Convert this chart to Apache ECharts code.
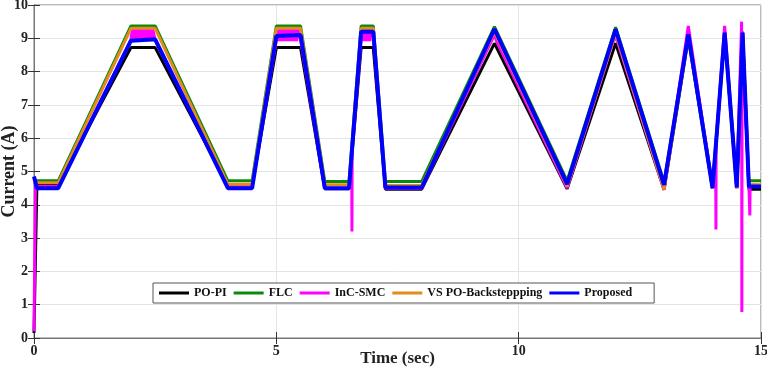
<!DOCTYPE html>
<html><head><meta charset="utf-8">
<script src="https://cdn.jsdelivr.net/npm/echarts@6/dist/echarts.min.js"></script>
<style>html,body{margin:0;padding:0;background:#fff}#c{width:767px;height:375px}</style>
</head><body><div id="c"></div>
<script>
// time keys (s) shared by the smooth controllers
const tKey = [0, 0.06, 0.5, 2.0, 2.5, 4.0, 4.5, 5.0, 5.5, 6.0, 6.5, 6.75, 7.0, 7.25, 8.0, 9.5, 11.0, 12.0, 13.0, 13.5, 14.0, 14.25, 14.5, 14.62, 14.75, 15];
const poPI     = [0.15, 4.62, 4.62, 8.72, 8.72, 4.58, 4.58, 8.72, 8.72, 4.48, 4.48, 8.72, 8.72, 4.47, 4.47, 8.85, 4.48, 8.85, 4.45, 9.0, 4.5, 9.1, 4.5, 9.15, 4.47, 4.47];
const flc      = [4.72, 4.72, 4.72, 9.37, 9.37, 4.72, 4.72, 9.37, 9.37, 4.7, 4.7, 9.37, 9.37, 4.7, 4.7, 9.35, 4.72, 9.33, 4.68, 9.15, 4.6, 9.2, 4.6, 9.2, 4.72, 4.72];
const vsBack   = [4.68, 4.66, 4.66, 9.3, 9.3, 4.62, 4.62, 9.3, 9.3, 4.6, 4.6, 9.3, 9.3, 4.58, 4.58, 9.2, 4.55, 9.15, 4.45, 9.1, 4.5, 9.15, 4.5, 9.15, 4.6, 4.6];
const proposed = [4.85, 4.5, 4.5, 8.93, 8.97, 4.5, 4.5, 9.07, 9.1, 4.5, 4.5, 9.2, 9.2, 4.52, 4.52, 9.28, 4.62, 9.27, 4.6, 9.12, 4.5, 9.17, 4.52, 9.17, 4.55, 4.55];
// InC-SMC has chattering and spikes: own time/value pairs
const incSMC = [
  [0, 0.2], [0.03, 4.7], [0.06, 4.55], [0.5, 4.55],
  [2.0, 8.95], [2.03, 9.28], [2.06, 8.92], [2.09, 9.28], [2.12, 8.92], [2.15, 9.28], [2.18, 8.92], [2.21, 9.28], [2.24, 8.92], [2.27, 9.28], [2.3, 8.92], [2.33, 9.28], [2.36, 8.92], [2.39, 9.28], [2.42, 8.92], [2.45, 9.28], [2.5, 8.95],
  [4.0, 4.55], [4.5, 4.55],
  [5.0, 8.95], [5.03, 9.3], [5.06, 8.92], [5.09, 9.3], [5.12, 8.92], [5.15, 9.3], [5.18, 8.92], [5.21, 9.3], [5.24, 8.92], [5.27, 9.3], [5.3, 8.92], [5.33, 9.3], [5.36, 8.92], [5.39, 9.3], [5.42, 8.92], [5.45, 9.3], [5.5, 8.95],
  [6.0, 4.5], [6.5, 4.5], [6.555, 5.5], [6.56, 3.2], [6.565, 5.7],
  [6.75, 8.95], [6.78, 9.3], [6.81, 8.92], [6.84, 9.3], [6.87, 8.92], [6.9, 9.3], [6.93, 8.92], [6.96, 9.3], [7.0, 9.1],
  [7.25, 4.5], [8.0, 4.5],
  [9.45, 8.95], [9.5, 9.1], [9.55, 8.9],
  [11.0, 4.5], [11.95, 8.9], [12.0, 9.05], [12.05, 8.85],
  [13.0, 4.45], [13.5, 9.37], [14.0, 4.5],
  [14.065, 5.75], [14.07, 3.26], [14.075, 5.9], [14.25, 9.37],
  [14.5, 4.5], [14.6, 9.5], [14.605, 0.78], [14.61, 9.2],
  [14.75, 4.55], [14.765, 4.55], [14.77, 3.68], [14.775, 4.6], [15, 4.58]
];
const names = ['PO-PI', 'FLC', 'InC-SMC', 'VS PO-Backsteppping', 'Proposed'];
const colors = ['#000000', '#0a8a0a', '#ff00ff', '#e58a1f', '#0000ff'];
const xTicks = {min: 0, max: 15, interval: 5};
const yTicks = {min: 0, max: 10, interval: 1};

const zip = (v) => tKey.map((t, i) => [t, v[i]]);
const font = 'Liberation Serif';
const chart = echarts.init(document.getElementById('c'));
const mk = (name, data, color, w) => ({
  name, type: 'line', data, showSymbol: false, symbol: 'none',
  lineStyle: {color, width: w}, itemStyle: {color}, animation: false
});
chart.setOption({
  animation: false,
  grid: {left: 34, right: 6, top: 5, bottom: 37, containLabel: false, outerBoundsMode: 'none',
         show: true, borderColor: '#777', borderWidth: 1},
  legend: {
    left: 153, top: 283, data: names, icon: 'rect', itemWidth: 30, itemHeight: 3, itemGap: 7,
    padding: [4, 22, 4, 6], borderColor: '#555', borderWidth: 1, backgroundColor: '#fff',
    textStyle: {fontFamily: font, fontWeight: 'bold', fontSize: 12, color: '#111'}
  },
  xAxis: [{
    type: 'value', min: xTicks.min, max: xTicks.max, interval: xTicks.interval,
    name: 'Time (sec)', nameLocation: 'middle', nameGap: 12, nameMoveOverlap: false,
    nameTextStyle: {fontFamily: font, fontWeight: 'bold', fontSize: 17, color: '#222', verticalAlign: 'top'},
    axisLine: {show: true, lineStyle: {color: '#777'}},
    axisTick: {show: true, inside: true, length: 6, lineStyle: {color: '#333'}},
    axisLabel: {fontFamily: font, fontWeight: 'bold', fontSize: 14, color: '#222', margin: 6},
    splitLine: {show: true, lineStyle: {color: '#e4e4e4'}}
  }, {
    type: 'value', position: 'top', min: xTicks.min, max: xTicks.max, interval: xTicks.interval,
    axisLine: {show: true, lineStyle: {color: '#777'}},
    axisTick: {show: true, inside: true, length: 6, lineStyle: {color: '#333'}},
    axisLabel: {show: false}, splitLine: {show: false}
  }],
  yAxis: [{
    type: 'value', min: yTicks.min, max: yTicks.max, interval: yTicks.interval,
    name: 'Current (A)', nameLocation: 'middle', nameGap: 16, nameMoveOverlap: false,
    nameTextStyle: {fontFamily: font, fontWeight: 'bold', fontSize: 18, color: '#222'},
    axisLine: {show: true, lineStyle: {color: '#777'}},
    axisTick: {show: true, inside: true, length: 6, lineStyle: {color: '#333'}},
    axisLabel: {fontFamily: font, fontWeight: 'bold', fontSize: 14, color: '#222', margin: 6},
    splitLine: {show: true, lineStyle: {color: '#e4e4e4'}}
  }, {
    type: 'value', position: 'right', min: yTicks.min, max: yTicks.max, interval: yTicks.interval,
    axisLine: {show: true, lineStyle: {color: '#777'}},
    axisTick: {show: true, inside: true, length: 6, lineStyle: {color: '#333'}},
    axisLabel: {show: false}, splitLine: {show: false}
  }],
  series: [
    mk(names[0], zip(poPI), colors[0], 3),
    mk(names[1], zip(flc), colors[1], 3),
    mk(names[2], incSMC, colors[2], 3),
    mk(names[3], zip(vsBack), colors[3], 3),
    mk(names[4], zip(proposed), colors[4], 4)
  ]
});
</script></body></html>
